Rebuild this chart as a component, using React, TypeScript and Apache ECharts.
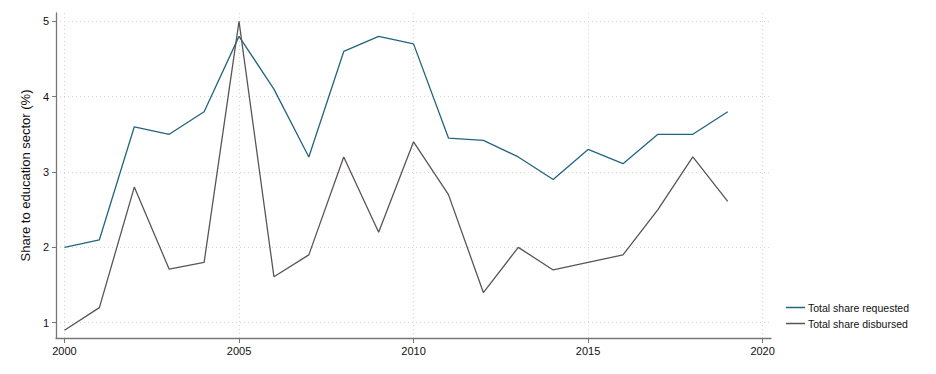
import React, { useEffect, useRef } from "react";
import * as echarts from "echarts";

const years = [2000, 2001, 2002, 2003, 2004, 2005, 2006, 2007, 2008, 2009, 2010, 2011, 2012, 2013, 2014, 2015, 2016, 2017, 2018, 2019];
const requested = [2.0, 2.1, 3.6, 3.5, 3.8, 4.8, 4.1, 3.2, 4.6, 4.8, 4.7, 3.45, 3.42, 3.2, 2.9, 3.3, 3.11, 3.5, 3.5, 3.8];
const disbursed = [0.9, 1.2, 2.8, 1.71, 1.8, 5.0, 1.61, 1.9, 3.2, 2.2, 3.4, 2.7, 1.4, 2.0, 1.7, 1.8, 1.9, 2.5, 3.2, 2.61];
const xTicks = [2000, 2005, 2010, 2015, 2020];
const yTicks = [1, 2, 3, 4, 5];

const FONT = "Liberation Sans, Arial, sans-serif";

export default function App() {
  const ref = useRef<HTMLDivElement>(null);
  useEffect(() => {
    if (!ref.current) return;
    const chart = echarts.init(ref.current, undefined, { renderer: "svg" });
    const gridLine = { show: true, lineStyle: { color: "#d4d4d4", type: [1, 3] as any, width: 1 } };
    chart.setOption({
      animation: false,
      backgroundColor: "#ffffff",
      textStyle: { fontFamily: FONT },
      grid: { left: 56, right: 165, top: 13, bottom: 36 },
      legend: {
        orient: "vertical",
        left: 781,
        top: 297,
        icon: "rect",
        itemWidth: 19,
        itemHeight: 1.5,
        itemGap: 5,
        textStyle: { fontFamily: FONT, fontSize: 10.5, color: "#111", padding: [0, 0, 0, -2] },
        data: ["Total share requested", "Total share disbursed"],
      },
      xAxis: {
        type: "value",
        min: 1999.757,
        max: 2020.24,
        axisLine: { show: true, lineStyle: { color: "#777", width: 1.3 } },
        axisTick: { show: true, length: 5, lineStyle: { color: "#777" }, customValues: xTicks },
        axisLabel: { customValues: xTicks, color: "#111", fontSize: 11, fontFamily: FONT, margin: 7, formatter: (v: number) => String(Math.round(v)) },
        splitLine: gridLine,
      },
      yAxis: {
        type: "value",
        min: 0.797,
        max: 5.11,
        name: "Share to education sector (%)",
        nameLocation: "middle",
        nameGap: 21,
        nameTextStyle: { fontFamily: FONT, fontSize: 13, color: "#111" },
        axisLine: { show: true, lineStyle: { color: "#777", width: 1.3 } },
        axisTick: { show: true, length: 4, lineStyle: { color: "#777" }, customValues: yTicks },
        axisLabel: { customValues: yTicks, color: "#111", fontSize: 11, fontFamily: FONT, margin: 7, formatter: (v: number) => String(Math.round(v)) },
        splitLine: gridLine,
      },
      series: [
        {
          name: "Total share requested",
          type: "line",
          data: years.map((y, i) => [y, requested[i]]),
          symbol: "none",
          lineStyle: { color: "#21657f", width: 1.3 },
          itemStyle: { color: "#21657f" },
        },
        {
          name: "Total share disbursed",
          type: "line",
          data: years.map((y, i) => [y, disbursed[i]]),
          symbol: "none",
          lineStyle: { color: "#5a5555", width: 1.3 },
          itemStyle: { color: "#5a5555" },
        },
      ],
    });
    return () => chart.dispose();
  }, []);
  return <div ref={ref} style={{ width: 936, height: 374, position: "absolute", left: 0, top: 0 }} />;
}
